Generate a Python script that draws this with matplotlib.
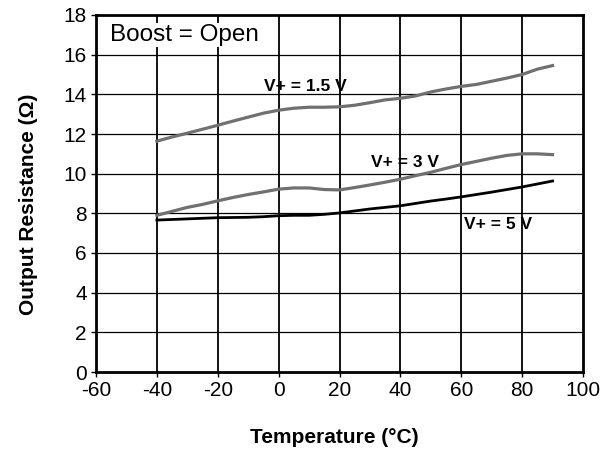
import matplotlib
matplotlib.use("Agg")
import matplotlib.pyplot as plt

plt.rcParams['font.family'] = ['Liberation Sans', 'DejaVu Sans']
plt.rcParams['axes.unicode_minus'] = False

temps = [-40, -35, -30, -25, -20, -15, -10, -5, 0, 5, 10, 15, 20, 25, 30,
         35, 40, 45, 50, 55, 60, 65, 70, 75, 80, 85, 90]
r_15v = [11.64, 11.85, 12.04, 12.24, 12.44, 12.65, 12.85, 13.05, 13.2, 13.3,
         13.35, 13.35, 13.37, 13.45, 13.58, 13.72, 13.8, 13.92, 14.12, 14.27,
         14.4, 14.5, 14.66, 14.82, 15.0, 15.27, 15.45]
r_3v = [7.9, 8.1, 8.3, 8.45, 8.63, 8.8, 8.95, 9.08, 9.22, 9.28, 9.28, 9.2,
        9.18, 9.3, 9.43, 9.57, 9.72, 9.9, 10.07, 10.27, 10.46, 10.62, 10.78,
        10.92, 11.0, 11.0, 10.96]
r_5v = [7.66, 7.69, 7.72, 7.75, 7.78, 7.79, 7.8, 7.83, 7.88, 7.9, 7.9, 7.95,
        8.02, 8.12, 8.22, 8.3, 8.38, 8.5, 8.62, 8.72, 8.83, 8.95, 9.07, 9.2,
        9.33, 9.48, 9.63]

series_labels = ["V+ = 1.5 V", "V+ = 3 V", "V+ = 5 V"]
label_pos = [(8.8, 14.42), (41.5, 10.54), (72.0, 7.46)]
x_ticks = [-60, -40, -20, 0, 20, 40, 60, 80, 100]
y_ticks = [0, 2, 4, 6, 8, 10, 12, 14, 16, 18]

fig = plt.figure(figsize=(6.13, 4.54), dpi=100)
ax = fig.add_axes([96/613, 1-372/454, 487/613, 357/454])

ax.set_xlim(-60, 100)
ax.set_ylim(0, 18)
ax.set_xticks(x_ticks)
ax.set_yticks(y_ticks)
ax.tick_params(direction='out', length=3.5, width=1, labelsize=15, pad=3, color='black')

for xv in x_ticks[1:-1]:
    ax.axvline(xv, color='black', lw=1.3, zorder=1)
for yv in y_ticks[1:-1]:
    ax.axhline(yv, color='black', lw=0.9, zorder=1)

for s in ax.spines.values():
    s.set_linewidth(2)
    s.set_color('black')

ax.plot(temps, r_15v, color='#707070', lw=2.3, zorder=3)
ax.plot(temps, r_3v, color='#707070', lw=2.3, zorder=3)
ax.plot(temps, r_5v, color='black', lw=2.0, zorder=3)

for lab, (tx, ty) in zip(series_labels, label_pos):
    ax.text(tx, ty, lab, fontsize=12.5, fontweight='bold', ha='center', va='center', zorder=4)

ax.text(-55.4, 16.99, "Boost = Open", fontsize=17.5, ha='left', va='center', zorder=4,
        bbox=dict(facecolor='white', edgecolor='none', pad=1))

ax.set_xlabel("Temperature (\u00b0C)", fontsize=15, fontweight='bold')
ax.set_ylabel("Output Resistance (\u03a9)", fontsize=15, fontweight='bold')
ax.xaxis.set_label_coords(0.489, -0.158)
ax.yaxis.set_label_coords(-0.119, 0.469)

fig.savefig("out.png", dpi=100)
